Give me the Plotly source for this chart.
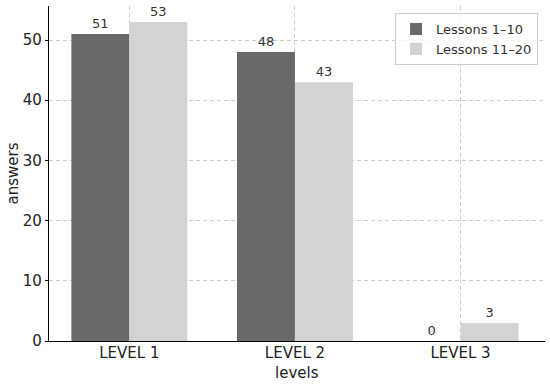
import plotly.graph_objects as go

categories = ["LEVEL 1", "LEVEL 2", "LEVEL 3"]
lessons_1_10 = [51, 48, 0]
lessons_11_20 = [53, 43, 3]
series_names = ["Lessons 1–10", "Lessons 11–20"]
y_ticks = [0, 10, 20, 30, 40, 50]

pos = list(range(len(categories)))
font = "DejaVu Sans"

fig = go.Figure()
fig.add_trace(go.Bar(x=pos, y=lessons_1_10, name=series_names[0], marker_color="#696969",
                     marker_line_width=0, text=[str(v) for v in lessons_1_10],
                     textposition="outside", textfont=dict(size=13, color="#333333", family=font),
                     cliponaxis=False))
fig.add_trace(go.Bar(x=pos, y=lessons_11_20, name=series_names[1], marker_color="#d3d3d3",
                     marker_line_width=0, text=[str(v) for v in lessons_11_20],
                     textposition="outside", textfont=dict(size=13, color="#333333", family=font),
                     cliponaxis=False))

fig.update_layout(
    width=550, height=384,
    margin=dict(l=49, r=5, t=6, b=43, autoexpand=False),
    plot_bgcolor="white", paper_bgcolor="white",
    barmode="group", bargap=0.3, bargroupgap=0,
    font=dict(family=font, size=15, color="#222222"),
    legend=dict(x=0.986, y=0.979, xanchor="right", yanchor="top", itemwidth=30,
                bgcolor="rgba(255,255,255,0.8)", bordercolor="#cccccc", borderwidth=1,
                font=dict(size=13, color="#333333")),
    xaxis=dict(tickmode="array", tickvals=pos, ticktext=categories, automargin=False,
               range=[-0.485, 2.51], showline=True, linecolor="black", linewidth=1.2,
               ticks="", ticklabelstandoff=-2,
               showgrid=True, gridcolor="#cccccc", griddash="4px,3px", gridwidth=0.8,
               zeroline=False),
    yaxis=dict(range=[0, 55.65], tickvals=y_ticks, automargin=False,
               showline=True, linecolor="black", linewidth=1.2,
               ticks="outside", ticklen=3, tickcolor="black",
               showgrid=True, gridcolor="#cccccc", griddash="4px,3px", gridwidth=0.8,
               zeroline=False),
    annotations=[
        dict(text="levels", xref="paper", yref="paper", x=0.5, y=0, yshift=-32,
             xanchor="center", yanchor="middle", showarrow=False, font=dict(size=15, color="#222222")),
        dict(text="answers", xref="paper", yref="paper", x=0, y=0.5, xshift=-37,
             xanchor="center", yanchor="middle", textangle=-90, showarrow=False,
             font=dict(size=15, color="#222222")),
    ],
)

fig.write_html("out.html", config={"displayModeBar": False},
               post_script="document.body.style.margin='0';")
